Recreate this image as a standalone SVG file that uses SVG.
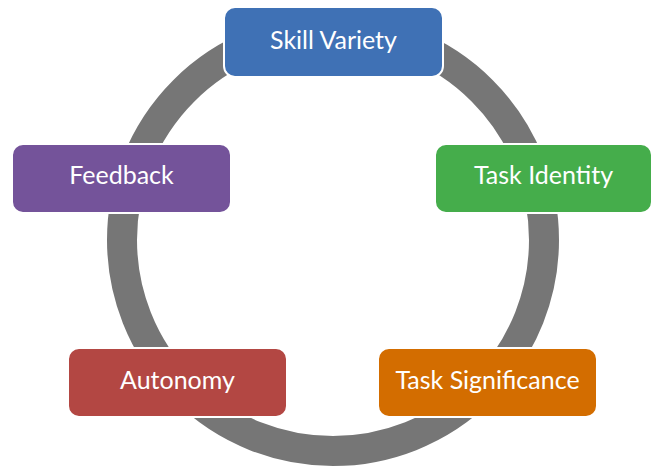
<svg xmlns="http://www.w3.org/2000/svg" width="653" height="469" viewBox="0 0 653 469">
<style>
.box{stroke:#ffffff;stroke-width:2}
.lbl{font-family:Lato,"Open Sans",sans-serif;font-size:25px;fill:#ffffff;text-anchor:middle}
</style>
<rect width="653" height="469" fill="#ffffff"/>
<g id="connectors">
<circle cx="333" cy="240" r="211" fill="none" stroke="#767676" stroke-width="30"/>
</g>
<g id="skill-variety">
<rect class="box" x="224" y="7" width="219" height="70" rx="11" fill="#3f71b5"/>
<text class="lbl" x="333.5" y="49">Skill Variety</text>
</g>
<g id="task-identity">
<rect class="box" x="435" y="144" width="217" height="69" rx="11" fill="#45ad4b"/>
<text class="lbl" x="543.5" y="184">Task Identity</text>
</g>
<g id="task-significance">
<rect class="box" x="378" y="348" width="219" height="69" rx="11" fill="#d36d00"/>
<text class="lbl" x="487.5" y="389">Task Significance</text>
</g>
<g id="autonomy">
<rect class="box" x="68" y="348" width="219" height="69" rx="11" fill="#b34743"/>
<text class="lbl" x="177.5" y="389">Autonomy</text>
</g>
<g id="feedback">
<rect class="box" x="12" y="144" width="219" height="69" rx="11" fill="#74539a"/>
<text class="lbl" x="121.5" y="184">Feedback</text>
</g>
</svg>
